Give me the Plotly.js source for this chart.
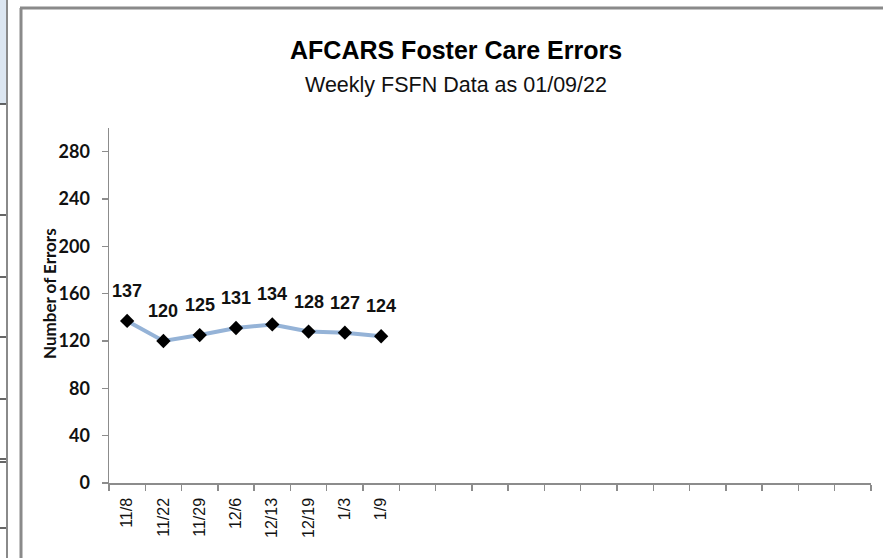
<!DOCTYPE html>
<html>
<head>
<meta charset="utf-8">
<script src="https://cdn.plot.ly/plotly-3.0.1.min.js"></script>
<style>
html,body{margin:0;padding:0;background:#fff;}
#chart{width:883px;height:558px;}
</style>
</head>
<body>
<div id="chart"></div>
<script>
// Data
const weeks = ['11/8','11/22','11/29','12/6','12/13','12/19','1/3','1/9'];
const errors = [137,120,125,131,134,128,127,124];
const totalSlots = 21;
const yTicks = [0,40,80,120,160,200,240,280];

const titleText = 'AFCARS Foster Care Errors';
const subtitleText = 'Weekly FSFN Data as 01/09/22';
const yTitleText = 'Number of Errors';

// plot area geometry (pixels)
const L = 109, R = 871, T = 128, B = 483, W = 883, H = 558;
const px = x => (x - L) / (R - L);
const py = y => (B - y) / (B - T);

const idx = weeks.map((_, i) => i);

const trace = {
  x: idx, y: errors, type: 'scatter', mode: 'lines+markers',
  line: {color: '#95b3d7', width: 4},
  marker: {symbol: 'diamond', size: 11, color: '#000000'},
  hoverinfo: 'skip', showlegend: false
};

const labelFont = {family: '"Liberation Sans", Arial, sans-serif', size: 18, color: '#111111'};
const annotations = idx.map((i) => ({
  x: i, y: errors[i], xref: 'x', yref: 'y', text: '<b>' + errors[i] + '</b>',
  showarrow: false, yshift: 30, font: labelFont
}));

annotations.push({
  x: px(456), y: py(50), xref: 'paper', yref: 'paper', text: '<b>' + titleText + '</b>',
  showarrow: false, xanchor: 'center', yanchor: 'middle',
  font: {family: '"Liberation Sans", Arial, sans-serif', size: 25, color: '#000000'}
});
annotations.push({
  x: px(456), y: py(85), xref: 'paper', yref: 'paper', text: subtitleText,
  showarrow: false, xanchor: 'center', yanchor: 'middle',
  font: {family: '"Liberation Sans", Arial, sans-serif', size: 21.5, color: '#111111'}
});
annotations.push({
  x: px(49), y: py(294), xref: 'paper', yref: 'paper', text: '<b>' + yTitleText + '</b>',
  showarrow: false, xanchor: 'center', yanchor: 'middle', textangle: -90,
  font: {family: 'Lato, "Open Sans", sans-serif', size: 17, color: '#111111'}
});

const shapes = [
  // chart outer border (left and top)
  {type: 'line', xref: 'paper', yref: 'paper', x0: px(21), x1: px(21), y0: py(8), y1: py(H + 5), line: {color: '#8a8a8a', width: 3}},
  {type: 'line', xref: 'paper', yref: 'paper', x0: px(20), x1: px(W + 5), y0: py(8), y1: py(8), line: {color: '#8a8a8a', width: 3}},
  // neighbouring element at the far left
  {type: 'rect', xref: 'paper', yref: 'paper', x0: px(-2), x1: px(6), y0: py(-2), y1: py(104), fillcolor: '#dce6f1', line: {width: 0}},
  {type: 'line', xref: 'paper', yref: 'paper', x0: px(7), x1: px(7), y0: py(-2), y1: py(H + 5), line: {color: '#8a8a8a', width: 2}}
];
[104, 215, 277, 337, 399, 459, 462, 528].forEach(y => {
  shapes.push({type: 'line', xref: 'paper', yref: 'paper', x0: px(-2), x1: px(6), y0: py(y), y1: py(y), line: {color: '#333333', width: 1.5}});
});

const layout = {
  width: W, height: H,
  margin: {l: L, r: W - R, t: T, b: H - B, pad: 0},
  paper_bgcolor: '#ffffff', plot_bgcolor: '#ffffff',
  showlegend: false,
  xaxis: {
    type: 'linear', range: [-0.5, totalSlots - 0.5],
    tickvals: idx, ticktext: weeks, tickangle: -90,
    ticks: '', showgrid: false, zeroline: false,
    showline: true, linecolor: '#8c8c8c', linewidth: 1.5,
    tickfont: {family: '"Liberation Sans", Arial, sans-serif', size: 16, color: '#111111'},
    ticklabelstandoff: 7,
    minor: {tick0: -0.5, dtick: 1, ticks: 'outside', ticklen: 6, tickcolor: '#8c8c8c', tickwidth: 1.5, showgrid: false},
    fixedrange: true
  },
  yaxis: {
    range: [0, 300], tickvals: yTicks, ticks: 'outside', ticklen: 6,
    tickcolor: '#8c8c8c', tickwidth: 1.5,
    showgrid: false, zeroline: false, showline: true, linecolor: '#8c8c8c', linewidth: 1.5,
    tickfont: {family: 'Lato, "Open Sans", sans-serif', size: 18, color: '#111111', weight: 'bold'},
    ticklabelstandoff: 8,
    fixedrange: true
  },
  annotations: annotations,
  shapes: shapes
};

Plotly.newPlot('chart', [trace], layout, {displayModeBar: false, staticPlot: true});
</script>
</body>
</html>
